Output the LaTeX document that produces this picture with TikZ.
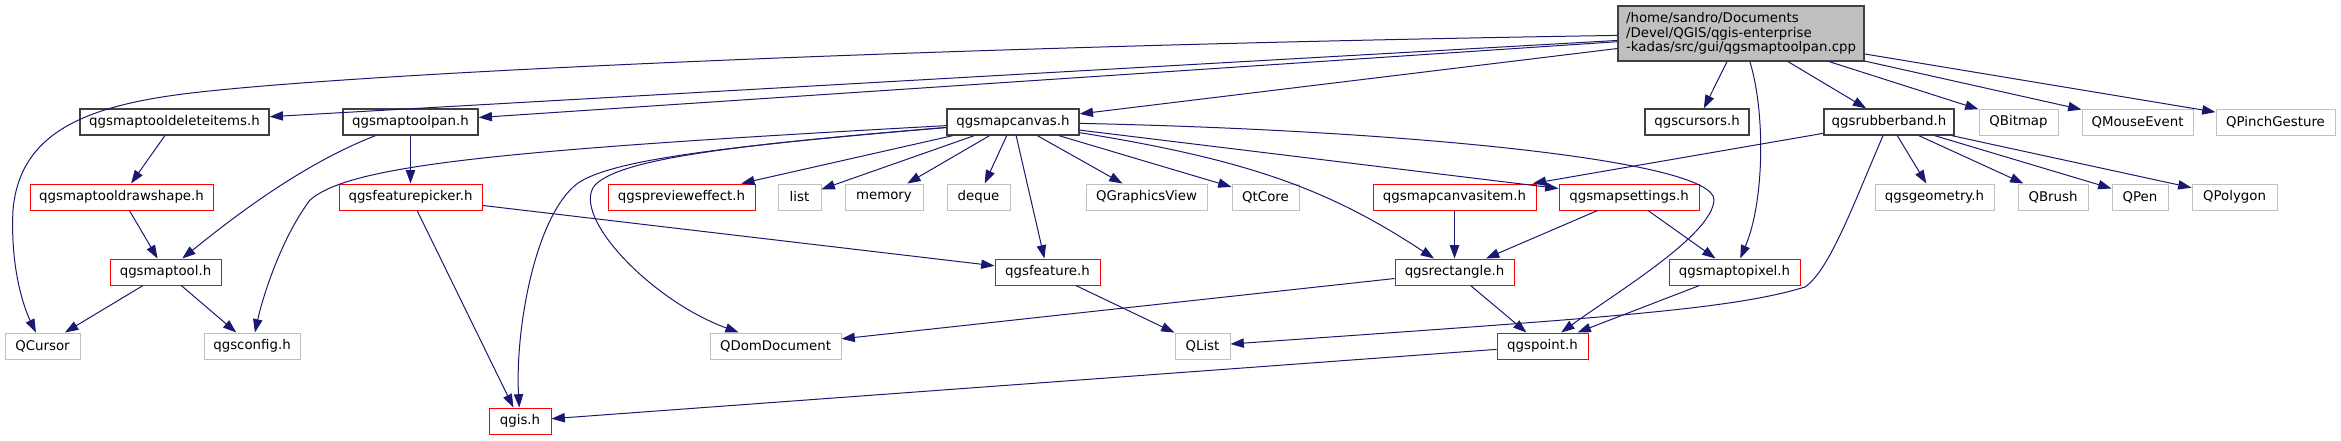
\documentclass[tikz,border=0pt]{standalone}
\usepackage{fontspec}
\setmainfont{DejaVu Sans}
\usetikzlibrary{arrows.meta}
\definecolor{DoxEdge}{RGB}{25,25,112}
\definecolor{DoxGray}{RGB}{191,191,191}
\definecolor{DoxDark}{RGB}{64,64,64}
\definecolor{DoxRed}{RGB}{255,0,0}

\begin{document}
\begin{tikzpicture}[x=0.75pt, y=-0.75pt,
      depbox/.style={rectangle, draw, fill=white, line width=0.75pt,
                     minimum height=19.5pt, inner xsep=2pt, inner ysep=1pt,
                     font=\fontsize{10}{11}\selectfont},
      hdrbox/.style={depbox, draw=DoxDark, line width=1pt},
      truncbox/.style={depbox, draw=DoxRed},
      extbox/.style={depbox, draw=DoxGray},
      rootbox/.style={depbox, fill=DoxGray, draw=DoxDark, line width=1pt,
                      align=left, minimum width=184.5pt, minimum height=41.25pt},
      arr/.style={-{Triangle[length=10pt, width=7pt]}, DoxEdge, line width=0.75pt}
    ]
    \useasboundingbox (0,0) rectangle (2341,440);

    % The source file
    \node[rootbox] (root) at (1741,33.5)
          {/home/sandro/Documents\\/Devel/QGIS/qgis-enterprise\\-kadas/src/gui/qgsmaptoolpan.cpp};

    % Documented headers (black frame)
    \foreach \n/\cx/\cy/\w/\lbl in {del/174.5/122/189/qgsmaptooldeleteitems.h,
        pan/410.5/122/135/qgsmaptoolpan.h, canvas/1013/122/132/qgsmapcanvas.h,
        cursors/1697/122/104/qgscursors.h, rubber/1889/122/130/qgsrubberband.h} {
      \node[hdrbox, minimum width=\w*0.75pt] (\n) at (\cx,\cy) {\lbl};
    }

    % Headers with truncated graphs (red frame)
    \foreach \n/\cx/\cy/\w/\lbl in {drawshape/121.5/197/183/qgsmaptooldrawshape.h,
        fpicker/410.5/197/143/qgsfeaturepicker.h, preview/681.5/197/147/qgsprevieweffect.h,
        canvasitem/1454.5/197/163/qgsmapcanvasitem.h, mapsettings/1629/197/140/qgsmapsettings.h,
        maptool/165.5/272/111/qgsmaptool.h, feature/1047.5/272/105/qgsfeature.h,
        rectangle/1454.5/272/119/qgsrectangle.h, maptopixel/1734.5/272/131/qgsmaptopixel.h,
        point/1542.5/346/91/qgspoint.h, qgis/520/421/62/qgis.h} {
      \node[truncbox, minimum width=\w*0.75pt] (\n) at (\cx,\cy) {\lbl};
    }

    % Undocumented / system headers (grey frame)
    \foreach \n/\cx/\cy/\w/\lbl in {qbitmap/2018.5/122/79/QBitmap,
        qmouse/2137.5/122/111/QMouseEvent, qpinch/2275.5/122/119/QPinchGesture,
        list/799.5/197/43/list, memory/884/197/78/memory, deque/978.5/197/63/deque,
        qgview/1146.5/197/121/QGraphicsView, qtcore/1265.5/197/67/QtCore,
        geometry/1934.5/197/119/qgsgeometry.h, qbrush/2053/197/70/QBrush,
        qpen/2140/197/56/QPen, qpolygon/2234.5/197/85/QPolygon,
        qcursor/42.5/346/75/QCursor, config/252/346/96/qgsconfig.h,
        qdom/775.5/346/131/QDomDocument, qlist/1202.5/346/55/QList} {
      \node[extbox, minimum width=\w*0.75pt] (\n) at (\cx,\cy) {\lbl};
    }

    % Includes of the source file
    \draw[arr] (root) .. controls (1000,45) and (400,70) .. (200,92)
               .. controls (90,104) and (20,130) .. (13,210)
               .. controls (10,270) and (25,310) .. (qcursor);
    \foreach \t in {del, pan, canvas, cursors, rubber, qbitmap, qmouse, qpinch} {
      \draw[arr] (root) -- (\t);
    }
    \draw[arr] (root) .. controls (1765,110) and (1765,200) .. (maptopixel);

    % qgsmapcanvas.h
    \foreach \t in {preview, list, memory, deque, feature, qgview, qtcore, mapsettings} {
      \draw[arr] (canvas) -- (\t);
    }
    \draw[arr] (canvas) .. controls (500,150) and (350,165) .. (310,200)
               .. controls (280,240) and (262,300) .. (config);
    \draw[arr] (canvas) .. controls (700,148) and (610,162) .. (578,183)
               .. controls (535,215) and (515,330) .. (qgis);
    \draw[arr] (canvas) .. controls (720,146) and (620,160) .. (595,185)
               .. controls (570,215) and (650,300) .. (qdom);
    \draw[arr] (canvas) .. controls (1250,160) and (1330,190) .. (rectangle);
    \draw[arr] (canvas) .. controls (1400,130) and (1715,160) .. (1714,200)
               .. controls (1712,235) and (1620,290) .. (point);

    % qgsrubberband.h
    \foreach \t in {canvasitem, geometry, qbrush, qpen, qpolygon} {
      \draw[arr] (rubber) -- (\t);
    }
    \draw[arr] (rubber) .. controls (1855,200) and (1830,270) .. (1805,287)
               .. controls (1730,310) and (1600,318) .. (qlist);

    % The rest of the tree
    \draw[arr] (del) -- (drawshape);
    \draw[arr] (drawshape) -- (maptool);
    \draw[arr] (pan) .. controls (300,165) and (230,220) .. (maptool);
    \draw[arr] (pan) -- (fpicker);
    \draw[arr] (fpicker) -- (feature);
    \draw[arr] (fpicker) -- (qgis);
    \draw[arr] (maptool) -- (qcursor);
    \draw[arr] (maptool) -- (config);
    \draw[arr] (feature) -- (qlist);
    \draw[arr] (canvasitem) -- (rectangle);
    \draw[arr] (mapsettings) -- (rectangle);
    \draw[arr] (mapsettings) -- (maptopixel);
    \draw[arr] (rectangle) -- (qdom);
    \draw[arr] (rectangle) -- (point);
    \draw[arr] (maptopixel) -- (point);
    \draw[arr] (point) -- (qgis);
  \end{tikzpicture}
\end{document}
